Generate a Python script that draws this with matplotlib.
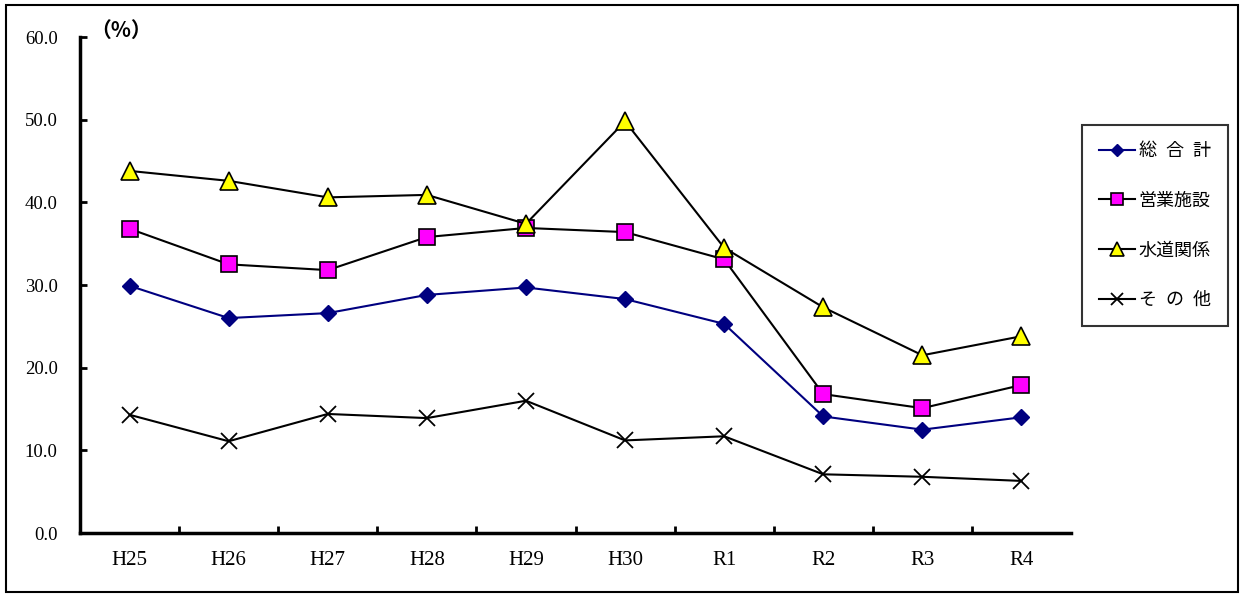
import matplotlib
matplotlib.use("Agg")
import matplotlib.pyplot as plt
import numpy as np

plt.rcParams.update({
    "font.family": ["Liberation Serif", "Noto Sans CJK JP", "DejaVu Sans"],
    "font.size": 13,
})

YEARS = ["H25", "H26", "H27", "H28", "H29", "H30", "R1", "R2", "R3", "R4"]
TOTAL = [29.9, 26.0, 26.6, 28.8, 29.7, 28.3, 25.3, 14.1, 12.5, 14.0]
BUSINESS = [36.8, 32.5, 31.8, 35.8, 36.9, 36.4, 33.1, 16.8, 15.1, 17.9]
WATER = [43.8, 42.6, 40.6, 40.9, 37.4, 49.8, 34.5, 27.3, 21.5, 23.8]
OTHER = [14.3, 11.1, 14.4, 13.9, 16.0, 11.2, 11.7, 7.1, 6.8, 6.3]
LABELS = ["総\u2002合\u2002計", "営業施設", "水道関係", "そ\u2002の\u2002他"]

fig = plt.figure(figsize=(12.44, 5.96), dpi=100)
W, H = 1244, 596
ax = fig.add_axes([80 / W, 1 - 533 / H, (1071 - 80) / W, (533 - 37) / H])

# outer frame
fig.patches.append(plt.Rectangle((6 / W, 4 / H), 1 - 12 / W, 1 - 9 / H,
                                 transform=fig.transFigure, fill=False,
                                 ec="black", lw=1.5))

x = np.arange(len(YEARS))
ax.plot(x, TOTAL, "-D", color="#000080", lw=1.5, ms=8, mfc="#000080",
        mec="#000080", label=LABELS[0], zorder=4)
ax.plot(x, BUSINESS, "-s", color="black", lw=1.5, ms=11, mfc="#FF00FF",
        mec="black", mew=1.2, label=LABELS[1], zorder=3)
ax.plot(x, WATER, "-^", color="black", lw=1.5, ms=13, mfc="#FFFF00",
        mec="black", mew=1.2, label=LABELS[2], zorder=5)
ax.plot(x, OTHER, "-x", color="black", lw=1.5, ms=11, mew=1.3,
        label=LABELS[3], zorder=3)

ax.set_xlim(-0.5, len(YEARS) - 0.5)
ax.set_ylim(0, 60)
ax.set_yticks(np.arange(0, 61, 10))
ax.set_yticklabels([f"{v:.1f}" for v in np.arange(0, 61, 10)], fontsize=13.5)
ax.set_xticks(x)
ax.set_xticklabels(YEARS, fontsize=15)
ax.set_xticks(np.arange(0.5, len(YEARS) - 0.5, 1), minor=True)
ax.tick_params(axis="x", which="major", length=0, pad=13)
ax.tick_params(axis="x", which="minor", direction="in", length=5, width=2)
ax.tick_params(axis="y", direction="in", length=5, width=2, pad=16)

for s in ["top", "right"]:
    ax.spines[s].set_visible(False)
ax.spines["left"].set_linewidth(2.5)
ax.spines["bottom"].set_linewidth(2.5)

fig.text(90 / W, 1 - 30 / H, "（%）", fontsize=15, fontweight="bold",
         family=["Noto Sans CJK JP"], va="center", ha="left")

leg = ax.legend(loc="upper left", bbox_to_anchor=(1082 / W, 1 - 125 / H),
                bbox_transform=fig.transFigure, borderaxespad=0,
                prop={"family": ["Noto Sans CJK JP", "DejaVu Sans"], "size": 13},
                frameon=True, fancybox=False, edgecolor="black",
                labelspacing=1.75, handlelength=2.0, handletextpad=0.2,
                borderpad=0.95, markerscale=0.75)
leg.get_frame().set_linewidth(1.5)

fig.savefig("out.png", dpi=100)
